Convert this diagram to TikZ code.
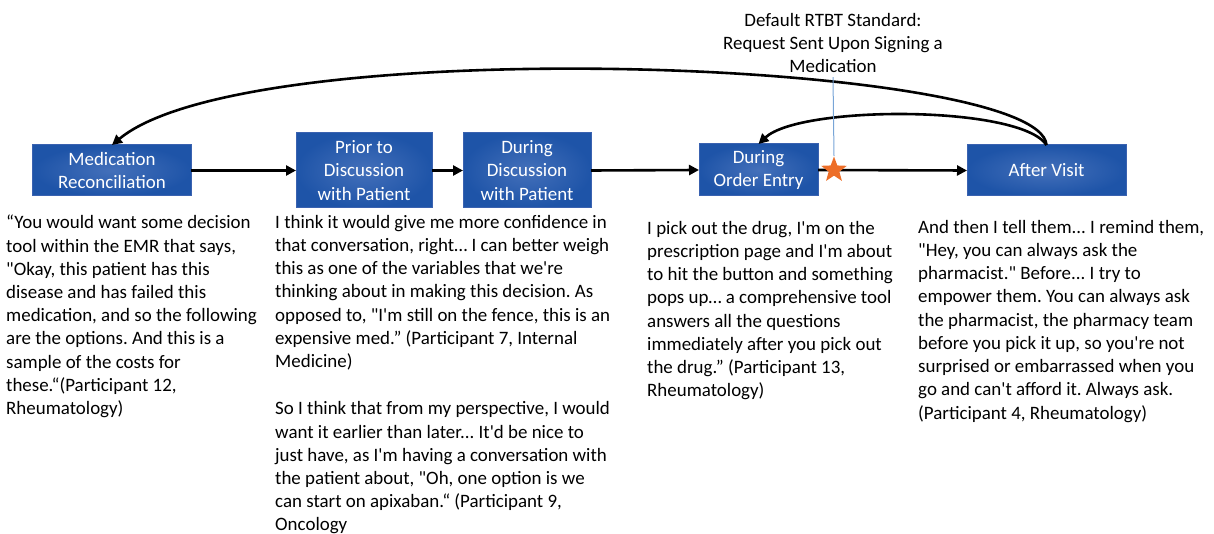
\documentclass[tikz,border=0pt]{standalone}
\usepackage{fontspec}
\setmainfont{Carlito}[Ligatures=TeXReset]
\usetikzlibrary{
  arrows.meta,
  positioning,
  shapes.geometric,
}
\definecolor{boxlight}{RGB}{68,112,186}
\definecolor{boxdark}{RGB}{30,84,168}
\definecolor{boxedge}{RGB}{58,98,176}
\definecolor{starorange}{RGB}{237,110,40}
\definecolor{signblue}{RGB}{120,165,215}
\newcommand{\qfont}{\fontsize{19}{23.3}\selectfont\frenchspacing}
\tikzset{
  >={Triangle[length=10bp,width=10bp]},
  n/.style={
    draw=boxedge, line width=1bp, inner color=boxlight, outer color=boxdark,
    text=white, align=center, inner sep=0pt, outer sep=0pt, font=\qfont,
  },
  q/.style={anchor=north west, align=left, inner sep=0pt, font=\qfont},
  flow/.style={->, line width=2.6bp},
  sign/.style={
    star, star points=5, star point ratio=2.4, fill=starorange,
    minimum size=27bp, inner sep=0pt,
  },
}

\begin{document}
\begin{tikzpicture}[x=1bp, y=-1bp]
  \useasboundingbox (0,0) rectangle (1214,534);
  \node[n, minimum width=158bp, minimum height=51bp](medrec) at (112,170.5){Medication\\Reconciliation};
  \node[n, minimum width=136bp, minimum height=75bp](prior) at (364,170.5){Prior to\\Discussion\\with Patient};
  \node[n, minimum width=128bp, minimum height=75bp](during) at (527,170.5){During\\Discussion\\with Patient};
  \node[n, minimum width=119bp, minimum height=52bp](entry) at (758.5,170){During\\Order Entry};
  \node[n, minimum width=159bp, minimum height=51bp](after) at (1046.5,170.5){After Visit};
  %%
  \draw[flow](medrec.east) -- (prior.west);
  \draw[flow](prior.east) -- (during.west);
  \draw[flow](during.east) -- (entry.west);
  \draw[flow](entry.east) -- (after.west);
  %%
  \draw[flow](after.north) .. controls (1040,60) and (250,30) .. (medrec.north);
  \draw[flow](after.north) .. controls (1020,105) and (800,105) .. (entry.north);
  %%
  \node[align=center, inner sep=0pt, anchor=north, font=\qfont](rtbt) at (833,13){Default RTBT Standard:\\Request Sent Upon Signing a\\Medication};
  \node[sign](mark) at (834,170){};
  \draw[signblue, line width=1bp]([yshift=-4bp]rtbt.south) -- (mark.north);
  %%
  \node[q](quoteA) at (6,215){“You would want some decision\\tool within the EMR that says,\\"Okay, this patient has this\\disease and has failed this\\medication, and so the following\\are the options. And this is a\\sample of the costs for\\these.“(Participant 12,\\Rheumatology)};
  \node[q](quoteB) at (275,215){I think it would give me more confidence in\\that conversation, right… I can better weigh\\this as one of the variables that we're\\thinking about in making this decision. As\\opposed to, "I'm still on the fence, this is an\\expensive med.” (Participant 7, Internal\\Medicine)\\[24bp]So I think that from my perspective, I would\\want it earlier than later... It'd be nice to\\just have, as I'm having a conversation with\\the patient about, "Oh, one option is we\\can start on apixaban.“ (Participant 9,\\Oncology};
  \node[q](quoteC) at (647,221){I pick out the drug, I'm on the\\prescription page and I'm about\\to hit the button and something\\pops up… a comprehensive tool\\answers all the questions\\immediately after you pick out\\the drug.” (Participant 13,\\Rheumatology)};
  \node[q](quoteD) at (918,220){And then I tell them... I remind them,\\"Hey, you can always ask the\\pharmacist." Before... I try to\\empower them. You can always ask\\the pharmacist, the pharmacy team\\before you pick it up, so you're not\\surprised or embarrassed when you\\go and can't afford it. Always ask.\\(Participant 4, Rheumatology)};
\end{tikzpicture}
\end{document}
